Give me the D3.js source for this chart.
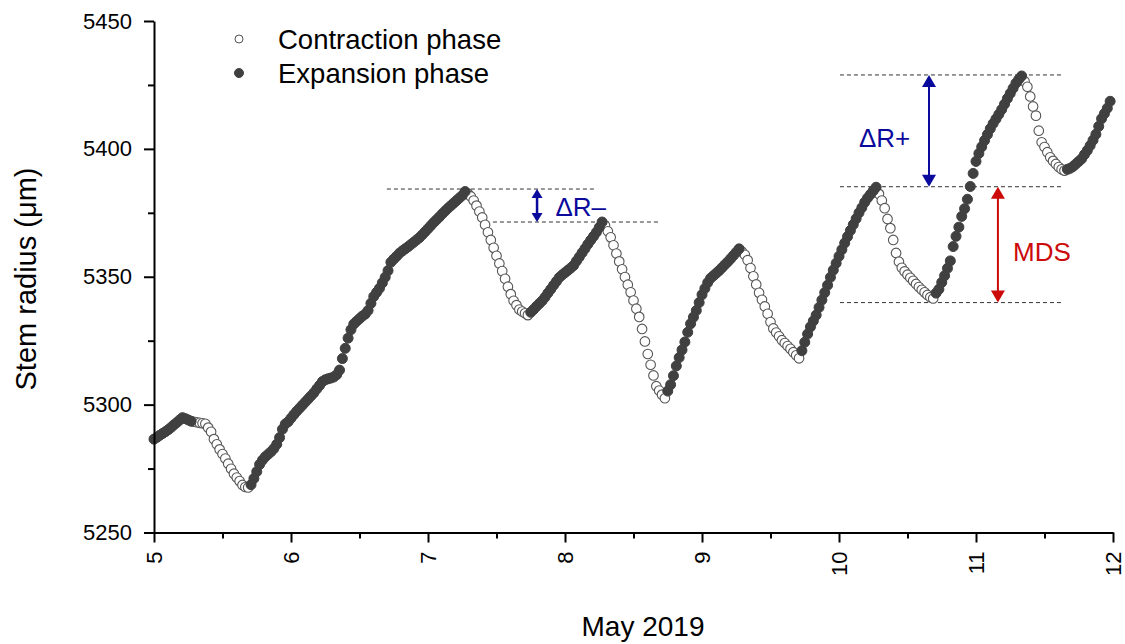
<!DOCTYPE html>
<html>
<head>
<meta charset="utf-8">
<script src="https://cdn.jsdelivr.net/npm/d3@7"></script>
<style>
	body { margin: 0; background: #fff; }
	svg { font-family: "Liberation Sans", Arial, sans-serif; }
</style>
</head>
<body>
<div class="chart"></div>
<script>
(function (){

	// Stem radius (um), one reading every 30 min, one array per day of May 2019
	var days = [5, 6, 7, 8, 9, 10, 11];
	var readingsPerDay = 48;
	var may5 = [5286.5, 5287.2, 5288.0, 5288.7, 5289.4, 5290.2, 5291.1, 5292.1, 5293.0, 5294.0, 5294.9, 5294.5, 5294.0, 5293.5, 5293.3, 5293.1, 5292.9, 5292.7, 5292.5, 5291.0, 5289.4, 5286.5, 5284.5, 5282.5, 5280.7, 5278.9, 5276.9, 5274.9, 5273.0, 5271.5, 5270.1, 5268.6, 5267.8, 5267.6, 5268.7, 5271.1, 5273.8, 5276.6, 5278.3, 5279.6, 5280.6, 5281.6, 5282.8, 5284.5, 5287.1, 5290.4, 5292.4, 5293.3];
	var may6 = [5294.7, 5296.1, 5297.4, 5298.6, 5299.8, 5301.0, 5302.2, 5303.4, 5304.6, 5306.1, 5307.5, 5309.0, 5309.7, 5310.1, 5310.4, 5310.8, 5311.7, 5313.5, 5318.0, 5322.0, 5326.0, 5329.3, 5331.5, 5332.6, 5333.6, 5334.6, 5335.4, 5336.8, 5339.6, 5342.3, 5343.9, 5345.5, 5347.6, 5349.8, 5352.4, 5355.7, 5356.9, 5358.0, 5359.2, 5360.1, 5360.9, 5361.7, 5362.6, 5363.5, 5364.4, 5365.3, 5366.4, 5367.6];
	var may7 = [5368.8, 5370.0, 5371.2, 5372.3, 5373.4, 5374.6, 5375.7, 5376.8, 5377.8, 5378.8, 5379.8, 5380.8, 5381.8, 5383.3, 5382.5, 5381.4, 5379.8, 5377.8, 5375.5, 5373.2, 5370.3, 5367.4, 5364.4, 5361.3, 5358.2, 5355.2, 5352.2, 5349.2, 5346.1, 5343.2, 5340.6, 5338.9, 5337.2, 5336.4, 5335.7, 5335.0, 5336.1, 5337.2, 5338.4, 5339.5, 5340.6, 5342.0, 5343.6, 5345.1, 5346.7, 5348.2, 5349.7, 5350.7];
	var may8 = [5351.6, 5352.5, 5353.4, 5354.4, 5356.1, 5357.7, 5359.4, 5361.0, 5362.7, 5364.3, 5365.8, 5367.4, 5369.3, 5371.4, 5370.0, 5367.8, 5365.4, 5362.3, 5359.1, 5356.0, 5352.9, 5349.9, 5346.9, 5343.9, 5340.7, 5337.5, 5334.3, 5329.6, 5324.7, 5319.8, 5315.6, 5311.4, 5307.2, 5305.5, 5303.9, 5302.5, 5305.3, 5307.8, 5311.3, 5315.1, 5318.4, 5321.4, 5324.5, 5328.3, 5331.6, 5334.2, 5336.8, 5339.9];
	var may9 = [5343.0, 5345.4, 5347.7, 5349.4, 5350.4, 5351.4, 5352.4, 5353.5, 5354.7, 5355.8, 5357.0, 5358.3, 5359.6, 5360.9, 5359.8, 5358.6, 5356.5, 5353.4, 5350.2, 5347.0, 5343.7, 5341.0, 5338.4, 5335.5, 5332.3, 5329.8, 5328.2, 5326.7, 5325.2, 5324.1, 5322.9, 5321.8, 5320.5, 5319.3, 5318.1, 5321.1, 5324.4, 5327.6, 5330.4, 5332.7, 5335.0, 5338.0, 5340.9, 5343.8, 5346.7, 5349.8, 5352.6, 5355.3];
	var may10 = [5358.0, 5360.6, 5363.2, 5365.7, 5368.1, 5370.4, 5372.7, 5375.0, 5377.0, 5379.1, 5380.8, 5382.2, 5383.6, 5385.0, 5382.4, 5379.8, 5376.8, 5372.6, 5369.0, 5364.4, 5359.3, 5355.9, 5353.5, 5352.1, 5350.8, 5349.6, 5348.4, 5347.2, 5346.0, 5344.9, 5343.9, 5342.9, 5342.0, 5341.5, 5343.6, 5345.1, 5347.8, 5350.4, 5353.3, 5356.2, 5361.8, 5365.8, 5369.4, 5373.6, 5376.6, 5380.3, 5385.3, 5390.4];
	var may11 = [5395.1, 5398.2, 5400.8, 5403.3, 5405.6, 5407.9, 5409.9, 5411.7, 5413.5, 5415.4, 5417.5, 5419.7, 5421.7, 5423.7, 5425.7, 5427.2, 5428.5, 5426.4, 5424.3, 5420.5, 5416.6, 5413.0, 5407.1, 5402.6, 5400.7, 5398.7, 5396.7, 5395.3, 5394.1, 5392.9, 5392.0, 5391.5, 5392.0, 5392.4, 5393.1, 5394.1, 5395.1, 5396.1, 5397.8, 5399.4, 5401.3, 5403.4, 5405.7, 5408.8, 5411.8, 5413.8, 5415.9, 5418.6];
	var dailyValues = [may5, may6, may7, may8, may9, may10, may11];

	// Contraction phases (start / end, day of May)
	var contractionStart = [5.28, 7.28, 8.28, 9.28, 10.28, 11.34];
	var contractionEnd = [5.69, 7.73, 8.73, 9.71, 10.69, 11.65];

	// Axis ticks
	var xTicks = [5, 6, 7, 8, 9, 10, 11, 12];
	var yTicks = [5250, 5300, 5350, 5400, 5450];

	// Legend
	var legendLabels = ["Contraction phase", "Expansion phase"];

	// Annotation levels
	var guideLevel = [5384.3, 5371.4, 5428.9, 5385.2, 5339.9];
	var guideFrom = [6.70, 7.474, 10.007, 10.007, 10.007];
	var guideTo = [8.219, 8.679, 11.628, 11.628, 11.628];
	var arrowDay = [7.796, 10.657, 11.16];
	var arrowTop = [5384.3, 5428.9, 5385.2];
	var arrowBottom = [5371.4, 5385.2, 5339.9];
	var arrowLabels = ["\u0394R\u2013", "\u0394R+", "MDS"];
	var arrowLabelDay = [7.93, 10.52, 11.27];
	var arrowLabelLevel = [5377.3, 5404.3, 5359.7];

	var blue = "#0a0a9c", red = "#cc0a0a";
	var fillGrey = "#404040", ringGrey = "#555";

	var width = 1125, height = 644;

	var svg = d3.select(".chart")
		.append("svg")
		.attr("width", width)
		.attr("height", height);

	var xScale = d3.scaleLinear().domain([5, 12]).range([154, 1113]);
	var yScale = d3.scaleLinear().domain([5250, 5450]).range([532.5, 21]);

	// Flatten readings into points
	var points = [];
	days.forEach(function(day, k){
		dailyValues[k].forEach(function(v, i){
			var t = day + i / readingsPerDay;
			var contraction = false;
			for(var c = 0; c < contractionStart.length; c++){
				if(t >= contractionStart[c] && t <= contractionEnd[c]) contraction = true;
			}
			points.push({ t: t, v: v, contraction: contraction });
		});
	});

	// Dashed guide lines
	svg.append("g").selectAll("line")
		.data(guideLevel)
		.enter()
		.append("line")
		.attr("x1", function(d, i){ return xScale(guideFrom[i]); })
		.attr("x2", function(d, i){ return xScale(guideTo[i]); })
		.attr("y1", function(d){ return yScale(d); })
		.attr("y2", function(d){ return yScale(d); })
		.attr("stroke", "#333")
		.attr("stroke-width", 1)
		.attr("stroke-dasharray", "4,3");

	// Open markers first, filled markers on top
	var dots = svg.append("g");
	dots.selectAll("circle.open")
		.data(points.filter(function(p){ return p.contraction; }))
		.enter()
		.append("circle")
		.attr("class", "open")
		.attr("cx", function(d){ return xScale(d.t); })
		.attr("cy", function(d){ return yScale(d.v); })
		.attr("r", 4.8)
		.attr("fill", "#fff")
		.attr("stroke", ringGrey)
		.attr("stroke-width", 1.1);

	dots.selectAll("circle.filled")
		.data(points.filter(function(p){ return !p.contraction; }))
		.enter()
		.append("circle")
		.attr("class", "filled")
		.attr("cx", function(d){ return xScale(d.t); })
		.attr("cy", function(d){ return yScale(d.v); })
		.attr("r", 5)
		.attr("fill", fillGrey)
		.attr("stroke", fillGrey)
		.attr("stroke-width", 1);

	// Arrows
	var arrowColor = [blue, blue, red];
	var headW = [11, 14, 14], headH = [9, 12, 12];
	var arrows = svg.append("g");
	arrowDay.forEach(function(d, i){
		var x = xScale(d), y1 = yScale(arrowTop[i]), y2 = yScale(arrowBottom[i]);
		arrows.append("line")
			.attr("x1", x).attr("x2", x)
			.attr("y1", y1 + headH[i] - 1).attr("y2", y2 - headH[i] + 1)
			.attr("stroke", arrowColor[i])
			.attr("stroke-width", i == 0 ? 2.5 : 2);
		arrows.append("path")
			.attr("d", "M" + x + "," + y1 + "L" + (x - headW[i] / 2) + "," + (y1 + headH[i]) + "L" + (x + headW[i] / 2) + "," + (y1 + headH[i]) + "Z")
			.attr("fill", arrowColor[i]);
		arrows.append("path")
			.attr("d", "M" + x + "," + y2 + "L" + (x - headW[i] / 2) + "," + (y2 - headH[i]) + "L" + (x + headW[i] / 2) + "," + (y2 - headH[i]) + "Z")
			.attr("fill", arrowColor[i]);
		arrows.append("text")
			.attr("x", xScale(arrowLabelDay[i]))
			.attr("y", yScale(arrowLabelLevel[i]))
			.attr("dominant-baseline", "central")
			.attr("text-anchor", i == 1 ? "end" : "start")
			.attr("fill", arrowColor[i])
			.style("font-size", "26px")
			.text(arrowLabels[i]);
	});

	// Minor ticks
	svg.append("g")
		.attr("transform", "translate(0," + yScale(5250) + ")")
		.call(d3.axisBottom(xScale).tickValues(d3.range(5.5, 12, 1)).tickSize(6).tickFormat(""))
		.call(function(g){ g.select(".domain").remove(); })
		.selectAll("line").attr("stroke-width", 2);

	svg.append("g")
		.attr("transform", "translate(" + xScale(5) + ",0)")
		.call(d3.axisLeft(yScale).tickValues(d3.range(5275, 5450, 50)).tickSize(6).tickFormat(""))
		.call(function(g){ g.select(".domain").remove(); })
		.selectAll("line").attr("stroke-width", 2);

	// X axis
	var xAxisG = svg.append("g")
		.attr("transform", "translate(0," + yScale(5250) + ")")
		.call(d3.axisBottom(xScale).tickValues(xTicks).tickSize(10).tickSizeOuter(0).tickFormat(d3.format("d")));
	xAxisG.attr("font-family", null).attr("font-size", null);
	xAxisG.selectAll("line, path").attr("stroke-width", 2);
	xAxisG.selectAll("text")
		.attr("transform", "rotate(-90)")
		.attr("x", -19)
		.attr("y", 0)
		.attr("dy", "0.35em")
		.attr("text-anchor", "end")
		.attr("fill", "#000")
		.style("font-size", "22px");

	// Y axis
	var yAxisG = svg.append("g")
		.attr("transform", "translate(" + xScale(5) + ",0)")
		.call(d3.axisLeft(yScale).tickValues(yTicks).tickSize(10).tickSizeOuter(0).tickFormat(d3.format("d")));
	yAxisG.attr("font-family", null).attr("font-size", null);
	yAxisG.selectAll("line, path").attr("stroke-width", 2);
	yAxisG.selectAll("text")
		.attr("x", -22)
		.attr("fill", "#000")
		.style("font-size", "22px");

	// Axis titles
	svg.append("text")
		.attr("x", 643)
		.attr("y", 636)
		.attr("text-anchor", "middle")
		.style("font-size", "28px")
		.text("May 2019");

	svg.append("text")
		.attr("transform", "translate(26,279) rotate(-90)")
		.attr("text-anchor", "middle")
		.attr("dominant-baseline", "central")
		.style("font-size", "29px")
		.text("Stem radius (\u03bcm)");

	// Legend
	var legend = svg.append("g");
	legendLabels.forEach(function(label, i){
		var y = 39 + i * 34;
		legend.append("circle")
			.attr("cx", 239)
			.attr("cy", y)
			.attr("r", i == 0 ? 4 : 4.5)
			.attr("fill", i == 0 ? "#fff" : fillGrey)
			.attr("stroke", i == 0 ? ringGrey : fillGrey)
			.attr("stroke-width", 1);
		legend.append("text")
			.attr("x", 278)
			.attr("y", y)
			.attr("dominant-baseline", "central")
			.style("font-size", "27.5px")
			.text(label);
	});
})();
</script>
</body>
</html>
